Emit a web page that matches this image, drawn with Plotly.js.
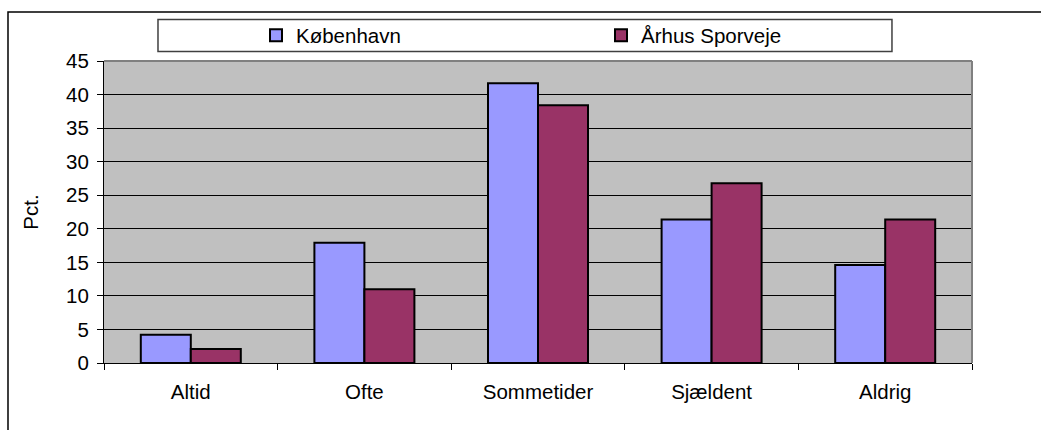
<!DOCTYPE html>
<html>
<head>
<meta charset="utf-8">
<script src="https://cdn.plot.ly/plotly-3.0.1.min.js"></script>
<style>
  html, body { margin: 0; padding: 0; background: #ffffff; }
  #chart { width: 1041px; height: 430px; }
</style>
</head>
<body>
<div id="chart"></div>
<script>
const categories = ["Altid", "Ofte", "Sommetider", "Sjældent", "Aldrig"];
const kobenhavn = [4.2, 17.9, 41.7, 21.4, 14.6];
const aarhus = [2.1, 11.0, 38.4, 26.8, 21.4];
const seriesNames = ["København", "Århus Sporveje"];
const yTicks = [0, 5, 10, 15, 20, 25, 30, 35, 40, 45];

const FONT = "Liberation Sans, Arial, sans-serif";
const FS = 20.5;

const traces = [
  {
    type: "bar", name: seriesNames[0], x: categories, y: kobenhavn,
    marker: { color: "#9999FF", line: { color: "#000000", width: 2 } },
    hoverinfo: "x+y"
  },
  {
    type: "bar", name: seriesNames[1], x: categories, y: aarhus,
    marker: { color: "#993366", line: { color: "#000000", width: 2 } },
    hoverinfo: "x+y"
  }
];

const layout = {
  width: 1041, height: 430,
  margin: { l: 104, r: 69, t: 61, b: 67, pad: 0, autoexpand: false },
  paper_bgcolor: "#ffffff",
  plot_bgcolor: "#C0C0C0",
  font: { family: FONT, size: FS, color: "#000000" },
  barmode: "group",
  bargap: 0.424,
  bargroupgap: 0,
  showlegend: true,
  legend: {
    orientation: "h",
    x: 0.1751, xanchor: "left",
    y: 1.0844, yanchor: "middle",
    bgcolor: "rgba(0,0,0,0)",
    borderwidth: 0,
    entrywidth: 300, entrywidthmode: "pixels",
    font: { family: FONT, size: FS, color: "#000000" },
    traceorder: "normal"
  },
  xaxis: {
    type: "category",
    tickson: "boundaries",
    ticks: "outside", ticklen: 6, tickwidth: 1, tickcolor: "#000000",
    showline: true, linecolor: "#000000", linewidth: 1,
    showgrid: false, zeroline: false,
    tickfont: { family: FONT, size: FS, color: "#000000" },
    ticklabelstandoff: 10,
    automargin: false,
    fixedrange: true
  },
  yaxis: {
    range: [0, 45],
    tickvals: yTicks,
    ticktext: yTicks.map(String),
    ticks: "outside", ticklen: 6, tickwidth: 1, tickcolor: "#000000",
    showline: true, linecolor: "#000000", linewidth: 1,
    showgrid: true, gridcolor: "#000000", gridwidth: 1,
    zeroline: false,
    tickfont: { family: FONT, size: FS, color: "#000000" },
    ticklabelstandoff: 4,
    title: { text: "Pct.", font: { family: FONT, size: FS, color: "#000000" }, standoff: 21 },
    automargin: false,
    fixedrange: true
  },
  shapes: [
    { type: "line", xref: "paper", yref: "paper", x0: 0, x1: 1, y0: 1, y1: 1,
      line: { color: "#808080", width: 2 } },
    { type: "line", xref: "paper", yref: "paper", x0: 1, x1: 1, y0: 0, y1: 1,
      line: { color: "#808080", width: 2 } },
    { type: "rect", xref: "paper", yref: "paper",
      x0: 0.0622, x1: 0.9078, y0: 1.0315, y1: 1.1374,
      line: { color: "#404040", width: 1.5 }, fillcolor: "#ffffff", layer: "below" },
    { type: "rect", xref: "paper", yref: "paper",
      x0: -0.1106, x1: 1.084, y0: -0.238, y1: 1.1623,
      line: { color: "#000000", width: 1.5 }, fillcolor: "rgba(0,0,0,0)", layer: "above" }
  ]
};

Plotly.newPlot("chart", traces, layout, { displayModeBar: false, staticPlot: true });
</script>
</body>
</html>
